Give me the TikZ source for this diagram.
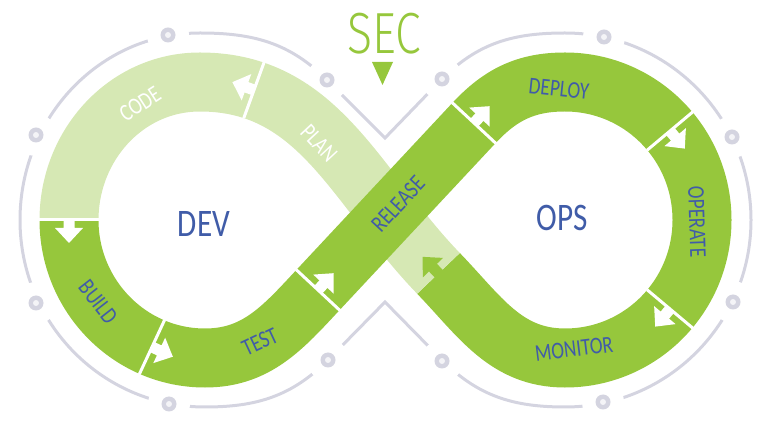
\documentclass[tikz,border=0pt]{standalone}
\usepackage{fontspec}
\setmainfont[FakeStretch=0.8]{Carlito}
\IfFontExistsTF{Fira Sans Light}{\newfontfamily\secfont[FakeStretch=0.8]{Fira Sans Light}}{\newfontfamily\secfont[FakeStretch=0.8]{Carlito}}
\definecolor{dgreen}{RGB}{150,199,60}
\definecolor{lgreen}{RGB}{214,232,180}
\definecolor{ringgray}{RGB}{212,212,224}
\definecolor{lblue}{RGB}{64,92,168}

\begin{document}
\begin{tikzpicture}[x=1pt,y=1pt,
  band/.style={line width=59pt},
  ringline/.style={ringgray,line width=3pt,line cap=round},
  sepline/.style={white,line width=3pt},
  lbl/.style={text=lblue,font=\fontsize{24}{24}\selectfont,inner sep=0pt},
  big/.style={text=lblue,font=\fontsize{39}{39}\selectfont,inner sep=0pt}]
  \useasboundingbox (0,0) rectangle (768,428);

  %% outer ring, with the two V's in the middle
  \draw[ringline] (385,290) -- (327,348) to[out=135,in=0] (200,395) to[out=180,in=90] (20,208)
    to[out=-90,in=180] (205,21) to[out=0,in=-135] (328,68) -- (385,126) -- (442,68)
    to[out=-45,in=180] (565,21) to[out=0,in=-90] (751,208) to[out=90,in=0] (565,395)
    to[out=180,in=45] (442,349) -- cycle;
  \foreach \x/\y in {168/393, 327/348, 36/293, 36/125, 169/24, 328/68,
                     442/349, 604/391, 732/291, 733/126, 603/26, 442/67} {  %gap and dot on the ring
    \fill[white] (\x,\y) circle (21);
    \fill[ringgray] (\x,\y) circle (7.5);
    \fill[white!75!ringgray] (\x,\y) circle (3);
  }

  %% the band, in four pieces
  \coordinate (test2rel) at (318,138);
  \coordinate (rel2dep) at (474,305);
  \coordinate (mon2plan) at (438.5,154.6);
  \coordinate (code2build) at (69,208);
  \draw[band,dgreen] (rel2dep) to[out=47,in=180] (565,346) to[out=0,in=90] (702,208)
    to[out=-90,in=0] (565,70) to[out=180,in=-46] (mon2plan);
  \draw[band,dgreen] (code2build) to[out=-90,in=180] (205,70) to[out=0,in=227] (test2rel);
  \draw[band,lgreen] (mon2plan) to[out=134,in=0] (200,346) to[out=180,in=90] (code2build);
  \draw[band,dgreen] (test2rel) -- (rel2dep);  % release goes over plan

  \foreach \x/\y/\a in {254/338/160, 69/208/-90, 152/81/-25, 318/138/47,
                        474/305/47, 670/297/-50, 670/119/-130} {  %separator and arrow
    \begin{scope}[shift={(\x,\y)},rotate=\a]
      \draw[sepline] (0,-30) -- (0,30);
      \fill[white] (0,-5.5) -- (8,-5.5) -- (8,-14) -- (23,0) -- (8,14) -- (8,5.5) -- (0,5.5) -- cycle;
    \end{scope}
  }
  \begin{scope}[shift={(mon2plan)},rotate=134]  % green arrow into plan
    \fill[dgreen] (-1,-5.5) -- (8,-5.5) -- (8,-14) -- (23,0) -- (8,14) -- (8,5.5) -- (-1,5.5) -- cycle;
  \end{scope}

  \node[lbl,text=white,rotate=33] (code) at (140,324) {CODE};
  \node[lbl,text=white,rotate=-47] (plan) at (319,285) {PLAN};
  \node[lbl,rotate=-52] (build) at (98,126) {BUILD};
  \node[lbl,rotate=25] (test) at (260,86) {TEST};
  \node[lbl,rotate=47] (release) at (398,224) {RELEASE};
  \node[lbl,rotate=-6] (deploy) at (559,339) {DEPLOY};
  \node[lbl,rotate=-88] (operate) at (697,206) {OPERATE};
  \node[lbl,rotate=7] (monitor) at (574,79) {MONITOR};
  \node[big] (dev) at (204,204) {DEV};
  \node[big] (ops) at (562,210) {OPS};
  \node[text=dgreen,font=\secfont\fontsize{58}{58}\selectfont,inner sep=0pt] (sec) at (384,394) {SEC};
  \fill[dgreen] (372,366) -- (393,366) -- (382.5,343) -- cycle;
\end{tikzpicture}
\end{document}
